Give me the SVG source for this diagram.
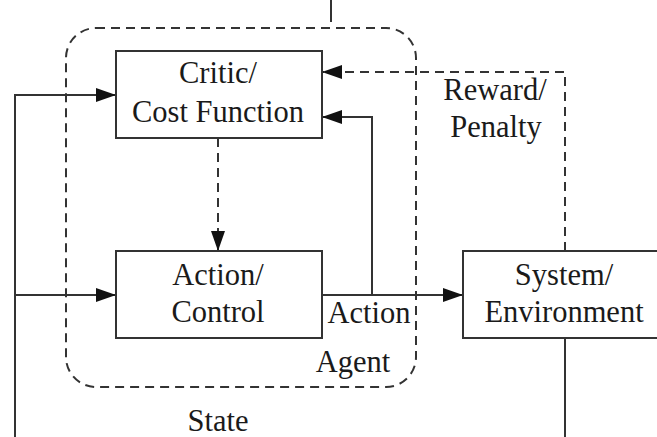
<svg xmlns="http://www.w3.org/2000/svg" width="657" height="437" viewBox="0 0 657 437" font-family="'Liberation Serif', 'DejaVu Serif', serif">
  <defs>
    <marker id="arrow" viewBox="0 0 20 14" refX="20" refY="7" markerWidth="20" markerHeight="14" markerUnits="userSpaceOnUse" orient="auto">
      <path d="M0,0 L20,7 L0,14 Z" fill="#111"/>
    </marker>
    <style>
      .box { fill: #fff; stroke: #333; stroke-width: 2; }
      .line { fill: none; stroke: #333; stroke-width: 2; }
      .dash { fill: none; stroke: #333; stroke-width: 2; stroke-dasharray: 9 6; }
      text { font-size: 30.5px; fill: #1a1a1a; text-anchor: middle; }
    </style>
  </defs>
  <rect width="657" height="437" fill="#fff"/>

  <!-- agent boundary -->
  <g id="agent">
    <rect class="dash" x="66" y="28" width="350" height="359" rx="30" ry="30"/>
    <text x="353" y="372">Agent</text>
  </g>

  <!-- connectors -->
  <g id="connectors">
    <line class="line" x1="331" y1="0" x2="331" y2="22"/>
    <!-- state feedback -->
    <polyline class="line" points="15,437 15,95 116,95" marker-end="url(#arrow)"/>
    <line class="line" x1="15" y1="295" x2="116" y2="295" marker-end="url(#arrow)"/>
    <!-- critic to actor -->
    <line class="dash" x1="218" y1="138" x2="218" y2="251" marker-end="url(#arrow)"/>
    <!-- action output -->
    <line class="line" x1="322" y1="295" x2="463" y2="295" marker-end="url(#arrow)"/>
    <polyline class="line" points="372,295 372,117 322,117" marker-end="url(#arrow)"/>
    <!-- reward -->
    <polyline class="dash" points="565,251 565,72 322,72" marker-end="url(#arrow)"/>
    <!-- system output -->
    <line class="line" x1="565" y1="338" x2="565" y2="437"/>
  </g>

  <g id="critic">
    <rect class="box" x="116" y="51" width="206" height="87"/>
    <text x="218" y="83">Critic/</text>
    <text x="218" y="122">Cost Function</text>
  </g>

  <g id="actor">
    <rect class="box" x="116" y="251" width="206" height="87"/>
    <text x="218" y="285">Action/</text>
    <text x="218" y="322">Control</text>
  </g>

  <g id="system">
    <rect class="box" x="463" y="251" width="210" height="87"/>
    <text x="564" y="285">System/</text>
    <text x="564" y="322">Environment</text>
  </g>

  <g id="labels">
    <text x="495" y="100">Reward/</text>
    <text x="496" y="137">Penalty</text>
    <text x="369" y="323">Action</text>
    <text x="218" y="431">State</text>
  </g>
</svg>
